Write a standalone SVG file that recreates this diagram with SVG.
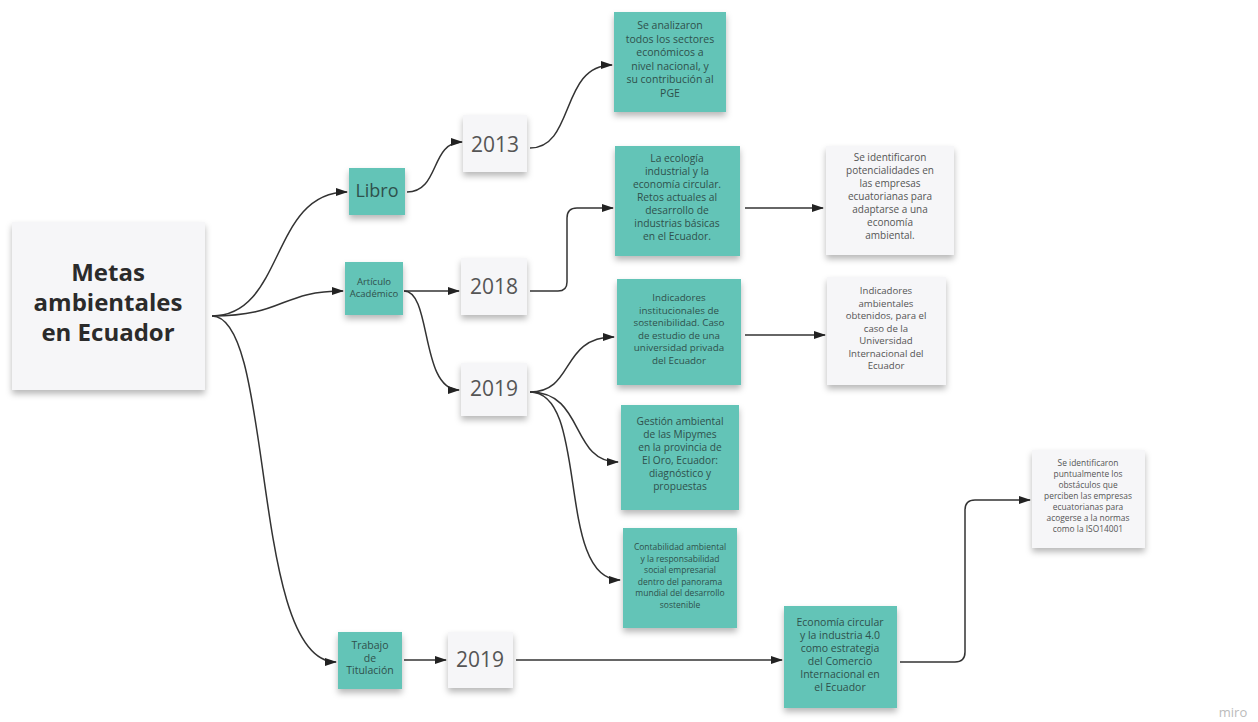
<svg xmlns="http://www.w3.org/2000/svg" width="1258" height="722" viewBox="0 0 1258 722">
<style>
.teal{fill:#63c4b7}
.white{fill:#f6f6f8}
.sh{filter:url(#shadow)}
.t{font-family:"Open Sans","Liberation Sans",sans-serif;text-anchor:middle;fill:#2f514c}
.w{font-family:"Open Sans","Liberation Sans",sans-serif;text-anchor:middle;fill:#555}
.yr{font-family:"Open Sans","Liberation Sans",sans-serif;text-anchor:middle;fill:#555;font-size:21px}
.title{font-family:"Open Sans","Liberation Sans",sans-serif;text-anchor:middle;fill:#2b2b2b;font-size:24px;font-weight:bold}
.c{fill:none;stroke:#333;stroke-width:1.5;marker-end:url(#arr)}
</style>
<defs>
<filter id="shadow" x="-20%" y="-20%" width="140%" height="150%">
<feDropShadow dx="0" dy="4" stdDeviation="3" flood-color="#000" flood-opacity="0.28"/>
</filter>
<marker id="arr" viewBox="0 0 12 8" refX="11" refY="4" markerWidth="12" markerHeight="8" markerUnits="userSpaceOnUse" orient="auto">
<path d="M0,0 L12,4 L0,8 Z" fill="#222"/>
</marker>
</defs>
<rect width="1258" height="722" fill="#ffffff"/>

<g id="connectors">
<path class="c" d="M212,316 C285,316 270,192 347,192"/>
<path class="c" d="M212,316 C285,316 280,291 343,291"/>
<path class="c" d="M212,316 C275,316 250,662 336,662"/>
<path class="c" d="M407,192 C440,192 430,142 462,142"/>
<path class="c" d="M530,148 C575,148 560,65 612,65"/>
<path class="c" d="M404,291 L459,291"/>
<path class="c" d="M404,291 C432,291 420,390 459,390"/>
<path class="c" d="M530,291 L558,291 Q567,291 567,282 L567,218 Q567,208 577,208 L613,208"/>
<path class="c" d="M745,208 L823,208"/>
<path class="c" d="M530,392 C575,392 560,337 614,337"/>
<path class="c" d="M530,392 C585,392 570,462 618,462"/>
<path class="c" d="M530,392 C590,392 555,580 620,580"/>
<path class="c" d="M745,335 L825,335"/>
<path class="c" d="M404,660 L446,660"/>
<path class="c" d="M516,660 L782,660"/>
<path class="c" d="M900,662 L955,662 Q965,662 965,652 L965,510 Q965,500 975,500 L1030,500"/>
</g>

<g id="main">
<rect class="white sh" x="12" y="222" width="193" height="168"/>
<text class="title" x="108" y="281">Metas</text>
<text class="title" x="108" y="311">ambientales</text>
<text class="title" x="108" y="341">en Ecuador</text>
</g>

<g id="libro">
<rect class="teal sh" x="349" y="168" width="56" height="47"/>
<text class="t" x="377" y="197" font-size="18">Libro</text>
</g>

<g id="articulo">
<rect class="teal sh" x="345" y="262" width="58" height="53"/>
<text class="t" x="374" y="285" font-size="9.5">Artículo</text>
<text class="t" x="374" y="297" font-size="9.5">Académico</text>
</g>

<g id="trabajo">
<rect class="teal sh" x="338" y="632" width="64" height="57"/>
<text class="t" x="370" y="649" font-size="10.5">Trabajo</text>
<text class="t" x="370" y="661.5" font-size="10.5">de</text>
<text class="t" x="370" y="674" font-size="10.5">Titulación</text>
</g>

<g id="y2013">
<rect class="white sh" x="463" y="115" width="64" height="57"/>
<text class="yr" x="495" y="152">2013</text>
</g>

<g id="y2018">
<rect class="white sh" x="461" y="258" width="66" height="57"/>
<text class="yr" x="494" y="294">2018</text>
</g>

<g id="y2019a">
<rect class="white sh" x="461" y="363" width="66" height="53"/>
<text class="yr" x="494" y="396">2019</text>
</g>

<g id="y2019b">
<rect class="white sh" x="448" y="632" width="65" height="56"/>
<text class="yr" x="480" y="667">2019</text>
</g>

<g id="sectores">
<rect class="teal sh" x="614" y="12" width="112" height="100"/>
<g class="t" font-size="10.5">
<text x="670" y="29">Se analizaron</text>
<text x="670" y="42.5">todos los sectores</text>
<text x="670" y="56">económicos a</text>
<text x="670" y="69.5">nivel nacional,  y</text>
<text x="670" y="83">su contribución al</text>
<text x="670" y="96.5">PGE</text>
</g>
</g>

<g id="ecologia">
<rect class="teal sh" x="615" y="146" width="125" height="110"/>
<g class="t" font-size="10.3">
<text x="677" y="162">La ecología</text>
<text x="677" y="175">industrial y la</text>
<text x="677" y="188">economía circular.</text>
<text x="677" y="201">Retos actuales al</text>
<text x="677" y="214">desarrollo de</text>
<text x="677" y="227">industrias básicas</text>
<text x="677" y="240">en el Ecuador.</text>
</g>
</g>

<g id="potencialidades">
<rect class="white sh" x="826" y="146" width="128" height="109"/>
<g class="w" font-size="10">
<text x="890" y="161">Se identificaron</text>
<text x="890" y="174">potencialidades en</text>
<text x="890" y="187">las empresas</text>
<text x="890" y="200">ecuatorianas para</text>
<text x="890" y="213">adaptarse a una</text>
<text x="890" y="226">economía</text>
<text x="890" y="239">ambiental.</text>
</g>
</g>

<g id="indicadores">
<rect class="teal sh" x="617" y="279" width="124" height="106"/>
<g class="t" font-size="9.8">
<text x="679" y="301">Indicadores</text>
<text x="679" y="313.5">institucionales de</text>
<text x="679" y="326">sostenibilidad. Caso</text>
<text x="679" y="338.5">de estudio de una</text>
<text x="679" y="351">universidad privada</text>
<text x="679" y="363.5">del Ecuador</text>
</g>
</g>

<g id="indicadoresamb">
<rect class="white sh" x="827" y="277" width="119" height="108"/>
<g class="w" font-size="9.6">
<text x="886" y="294">Indicadores</text>
<text x="886" y="306.5">ambientales</text>
<text x="886" y="319">obtenidos, para el</text>
<text x="886" y="331.5">caso de la</text>
<text x="886" y="344">Universidad</text>
<text x="886" y="356.5">Internacional del</text>
<text x="886" y="369">Ecuador</text>
</g>
</g>

<g id="gestion">
<rect class="teal sh" x="621" y="405" width="118" height="105"/>
<g class="t" font-size="10.2">
<text x="680" y="425">Gestión ambiental</text>
<text x="680" y="438">de las Mipymes</text>
<text x="680" y="451">en la provincia de</text>
<text x="680" y="464">El Oro, Ecuador:</text>
<text x="680" y="477">diagnóstico y</text>
<text x="680" y="490">propuestas</text>
</g>
</g>

<g id="contabilidad">
<rect class="teal sh" x="623" y="528" width="114" height="100"/>
<g class="t" font-size="8.5">
<text x="680" y="550">Contabilidad ambiental</text>
<text x="680" y="561.5">y la responsabilidad</text>
<text x="680" y="573">social empresarial</text>
<text x="680" y="584.5">dentro del panorama</text>
<text x="680" y="596">mundial del desarrollo</text>
<text x="680" y="607.5">sostenible</text>
</g>
</g>

<g id="obstaculos">
<rect class="white sh" x="1032" y="450" width="113" height="98"/>
<g class="w" font-size="8.4">
<text x="1088" y="466">Se identificaron</text>
<text x="1088" y="477">puntualmente los</text>
<text x="1088" y="488">obstáculos que</text>
<text x="1088" y="499">perciben las empresas</text>
<text x="1088" y="510">ecuatorianas para</text>
<text x="1088" y="521">acogerse a la normas</text>
<text x="1088" y="532">como la ISO14001</text>
</g>
</g>

<g id="economia">
<rect class="teal sh" x="784" y="606" width="113" height="102"/>
<g class="t" font-size="10.5">
<text x="840" y="626">Economía circular</text>
<text x="840" y="639">y la industria 4.0</text>
<text x="840" y="652">como estrategia</text>
<text x="840" y="665">del Comercio</text>
<text x="840" y="678">Internacional en</text>
<text x="840" y="691">el Ecuador</text>
</g>
</g>

<text x="1233" y="717" font-family="Open Sans, Liberation Sans, sans-serif" font-size="13" fill="#bbb" text-anchor="middle">miro</text>
</svg>
